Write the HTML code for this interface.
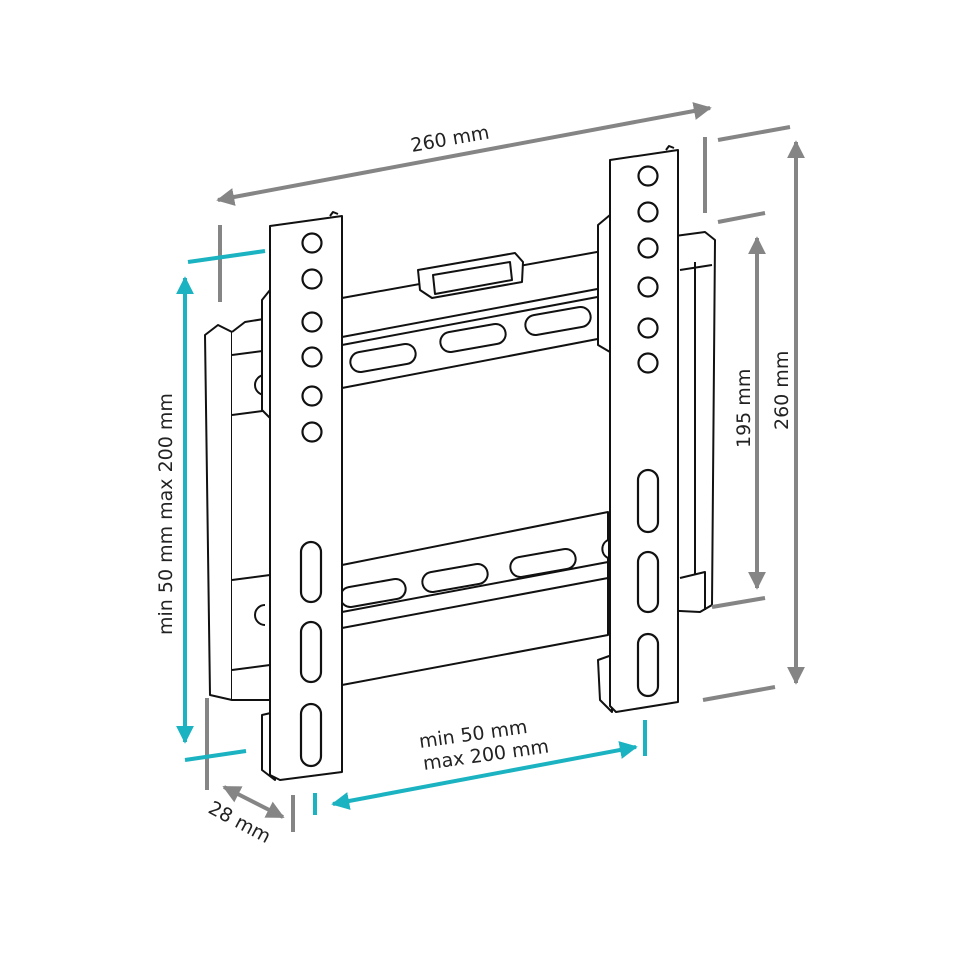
<!DOCTYPE html>
<html><head><meta charset="utf-8"><style>
html,body{margin:0;padding:0;background:#fff;}
svg{display:block;}
text{font-family:"DejaVu Sans","Liberation Sans",sans-serif;}
</style></head><body>
<svg width="980" height="980" viewBox="0 0 980 980" xmlns="http://www.w3.org/2000/svg">
<defs>
<marker id="ag" viewBox="0 0 10 10" refX="9" refY="5" markerWidth="4.5" markerHeight="4.5" orient="auto-start-reverse"><path d="M0,0L10,5L0,10z" fill="#858585"/></marker>
<marker id="at" viewBox="0 0 10 10" refX="9" refY="5" markerWidth="4.5" markerHeight="4.5" orient="auto-start-reverse"><path d="M0,0L10,5L0,10z" fill="#1bb3c1"/></marker>
</defs>
<g fill="#fff" stroke="#111" stroke-width="2" stroke-linejoin="round">
<!-- right wall plate -->
<path d="M660,238 L705,232 L715,240 L712,605 L700,612 L660,610 Z"/>
<path d="M680,270 L712,265 M680,578 L705,572 L705,610 M695,262 L695,575"/>
<!-- left wall plate -->
<path d="M205,335 L218,325 L232,332 L232,700 L210,695 Z"/>
<path d="M232,332 L245,322 L270,318 L270,700 L232,700"/>
<path d="M232,355 L270,350 M232,415 L270,410 M232,580 L270,575 M232,670 L270,665"/>
<path d="M265,375 A10,10 0 0 0 265,395" />
<path d="M265,605 A10,10 0 0 0 265,625" />
<!-- upper rail -->
<path d="M342,298 L608,250 L608,337 L342,388 Z"/>
<path d="M342,337 L608,287"/>
<path d="M342,345 L608,295"/>
<!-- hook block -->
<path d="M418,270 L515,253 L523,262 L522,282 L432,298 L420,290 Z"/>
<path d="M433,275 L510,262 L512,280 L435,294 Z"/>
<!-- upper slots -->
<rect x="350" y="348" width="66" height="20" rx="10" transform="rotate(-10 383 358)"/>
<rect x="440" y="328" width="66" height="20" rx="10" transform="rotate(-10 473 338)"/>
<rect x="525" y="311" width="66" height="20" rx="10" transform="rotate(-10 558 321)"/>
<!-- lower rail -->
<path d="M342,565 L608,512 L608,635 L342,685 Z"/>
<path d="M342,612 L608,562 M342,628 L608,578"/>
<rect x="340" y="583" width="66" height="20" rx="10" transform="rotate(-10 373 593)"/>
<rect x="422" y="568" width="66" height="20" rx="10" transform="rotate(-10 455 578)"/>
<rect x="510" y="553" width="66" height="20" rx="10" transform="rotate(-10 543 563)"/>
<path d="M608,540 A10,10 0 0 0 608,558"/>
<!-- left plate -->
<path d="M262,715 L275,712 L275,780 L262,770 Z"/>
<path d="M270,290 L262,300 L262,410 L270,418 Z"/>
<path d="M270,226 L342,216 L342,772 L280,780 L270,775 Z"/>
<path d="M330,216 L333,212 L338,214"/>
<!-- right plate -->
<path d="M598,660 L612,655 L612,712 L600,700 Z"/>
<path d="M610,215 L598,225 L598,345 L610,352 Z"/>
<path d="M610,160 L678,150 L678,702 L616,712 L610,706 Z"/>
<path d="M666,150 L669,146 L674,148"/>
</g>
<!-- holes -->
<g fill="#fff" stroke="#111" stroke-width="2.2">
<circle cx="312" cy="243" r="9.5"/><circle cx="312" cy="279" r="9.5"/><circle cx="312" cy="322" r="9.5"/><circle cx="312" cy="357" r="9.5"/><circle cx="312" cy="396" r="9.5"/><circle cx="312" cy="432" r="9.5"/>
<circle cx="648" cy="176" r="9.5"/><circle cx="648" cy="212" r="9.5"/><circle cx="648" cy="248" r="9.5"/><circle cx="648" cy="287" r="9.5"/><circle cx="648" cy="328" r="9.5"/><circle cx="648" cy="363" r="9.5"/>
<rect x="301" y="542" width="20" height="60" rx="10"/><rect x="301" y="622" width="20" height="60" rx="10"/><rect x="301" y="704" width="20" height="62" rx="10"/>
<rect x="638" y="470" width="20" height="62" rx="10"/><rect x="638" y="552" width="20" height="60" rx="10"/><rect x="638" y="634" width="20" height="62" rx="10"/>
</g>
<!-- grey dims -->
<g stroke="#858585" stroke-width="4" fill="none">
<line x1="218" y1="200" x2="710" y2="108" marker-start="url(#ag)" marker-end="url(#ag)"/>
<line x1="220" y1="225" x2="220" y2="302"/>
<line x1="705" y1="137" x2="705" y2="213"/>
<line x1="718" y1="140" x2="790" y2="127"/>
<line x1="718" y1="222" x2="765" y2="213"/>
<line x1="712" y1="607" x2="765" y2="598"/>
<line x1="703" y1="700" x2="775" y2="687"/>
<line x1="796" y1="142" x2="796" y2="683" marker-start="url(#ag)" marker-end="url(#ag)"/>
<line x1="757" y1="238" x2="757" y2="588" marker-start="url(#ag)" marker-end="url(#ag)"/>
<line x1="207" y1="698" x2="207" y2="790"/>
<line x1="293" y1="795" x2="293" y2="832"/>
<line x1="224" y1="787" x2="283" y2="817" marker-start="url(#ag)" marker-end="url(#ag)"/>
</g>
<!-- teal dims -->
<g stroke="#1bb3c1" stroke-width="4" fill="none">
<line x1="188" y1="262" x2="265" y2="251"/>
<line x1="185" y1="760" x2="246" y2="751"/>
<line x1="185" y1="278" x2="185" y2="742" marker-start="url(#at)" marker-end="url(#at)"/>
<line x1="315" y1="793" x2="315" y2="815"/>
<line x1="645" y1="720" x2="645" y2="756"/>
<line x1="333" y1="804" x2="636" y2="747" marker-start="url(#at)" marker-end="url(#at)"/>
</g>
<!-- labels -->
<g fill="#222" font-size="19">
<text transform="translate(412,152) rotate(-10)">260 mm</text>
<text transform="translate(788,430) rotate(-90)">260 mm</text>
<text transform="translate(750,448) rotate(-90)">195 mm</text>
<text transform="translate(172,635) rotate(-90)">min 50 mm max 200 mm</text>
<text transform="translate(420,748) rotate(-8)">min 50 mm</text>
<text transform="translate(424,770) rotate(-8)">max 200 mm</text>
<text transform="translate(207,812) rotate(28)">28 mm</text>
</g>
</svg>
</body></html>
